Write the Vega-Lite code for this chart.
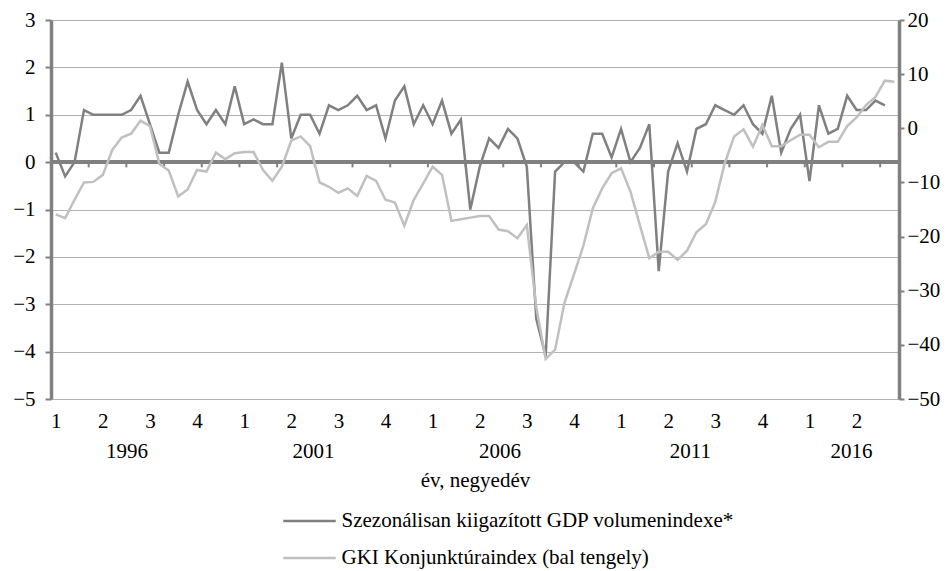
{
  "$schema": "https://vega.github.io/schema/vega-lite/v6.json",
  "width": 848,
  "height": 379,
  "autosize": {"type": "none"},
  "padding": {"left": 51, "top": 20, "right": 53, "bottom": 172},
  "background": "white",
  "config": {
    "view": {"stroke": null},
    "font": "Liberation Serif",
    "axis": {"labelFont": "Liberation Serif", "titleFont": "Liberation Serif", "labelColor": "black", "titleColor": "black", "titleFontWeight": "normal"},
    "legend": {"labelFont": "Liberation Serif", "labelColor": "black"}
  },
  "datasets": {
    "series": [
      {"i": 0, "gdp": 0.2, "gki": -15.9}, {"i": 1, "gdp": -0.3, "gki": -16.6}, {"i": 2, "gdp": 0.0, "gki": -13.2}, {"i": 3, "gdp": 1.1, "gki": -10.0}, {"i": 4, "gdp": 1.0, "gki": -9.9},
      {"i": 5, "gdp": 1.0, "gki": -8.6}, {"i": 6, "gdp": 1.0, "gki": -4.0}, {"i": 7, "gdp": 1.0, "gki": -1.7}, {"i": 8, "gdp": 1.1, "gki": -1.0}, {"i": 9, "gdp": 1.4, "gki": 1.4},
      {"i": 10, "gdp": 0.8, "gki": 0.4}, {"i": 11, "gdp": 0.2, "gki": -6.6}, {"i": 12, "gdp": 0.2, "gki": -7.8}, {"i": 13, "gdp": 1.0, "gki": -12.6}, {"i": 14, "gdp": 1.7, "gki": -11.3},
      {"i": 15, "gdp": 1.1, "gki": -7.7}, {"i": 16, "gdp": 0.8, "gki": -8.0}, {"i": 17, "gdp": 1.1, "gki": -4.5}, {"i": 18, "gdp": 0.8, "gki": -5.7}, {"i": 19, "gdp": 1.6, "gki": -4.6},
      {"i": 20, "gdp": 0.8, "gki": -4.4}, {"i": 21, "gdp": 0.9, "gki": -4.4}, {"i": 22, "gdp": 0.8, "gki": -7.7}, {"i": 23, "gdp": 0.8, "gki": -9.7}, {"i": 24, "gdp": 2.1, "gki": -7.1},
      {"i": 25, "gdp": 0.5, "gki": -2.3}, {"i": 26, "gdp": 1.0, "gki": -1.5}, {"i": 27, "gdp": 1.0, "gki": -3.3}, {"i": 28, "gdp": 0.6, "gki": -10.0}, {"i": 29, "gdp": 1.2, "gki": -10.8},
      {"i": 30, "gdp": 1.1, "gki": -11.9}, {"i": 31, "gdp": 1.2, "gki": -11.1}, {"i": 32, "gdp": 1.4, "gki": -12.5}, {"i": 33, "gdp": 1.1, "gki": -8.8}, {"i": 34, "gdp": 1.2, "gki": -9.7},
      {"i": 35, "gdp": 0.5, "gki": -13.2}, {"i": 36, "gdp": 1.3, "gki": -13.7}, {"i": 37, "gdp": 1.6, "gki": -18.0}, {"i": 38, "gdp": 0.8, "gki": -13.2}, {"i": 39, "gdp": 1.2, "gki": -10.2},
      {"i": 40, "gdp": 0.8, "gki": -7.1}, {"i": 41, "gdp": 1.3, "gki": -8.6}, {"i": 42, "gdp": 0.6, "gki": -17.1}, {"i": 43, "gdp": 0.9, "gki": -16.8}, {"i": 44, "gdp": -1.0, "gki": -16.5},
      {"i": 45, "gdp": -0.1, "gki": -16.2}, {"i": 46, "gdp": 0.5, "gki": -16.2}, {"i": 47, "gdp": 0.3, "gki": -18.7}, {"i": 48, "gdp": 0.7, "gki": -19.0}, {"i": 49, "gdp": 0.5, "gki": -20.3},
      {"i": 50, "gdp": -0.1, "gki": -17.9}, {"i": 51, "gdp": -3.3, "gki": -33.0}, {"i": 52, "gdp": -4.1, "gki": -42.6}, {"i": 53, "gdp": -0.2, "gki": -40.9}, {"i": 54, "gdp": 0.0, "gki": -32.2},
      {"i": 55, "gdp": 0.0, "gki": -27.0}, {"i": 56, "gdp": -0.2, "gki": -21.7}, {"i": 57, "gdp": 0.6, "gki": -14.8}, {"i": 58, "gdp": 0.6, "gki": -11.1}, {"i": 59, "gdp": 0.1, "gki": -8.3},
      {"i": 60, "gdp": 0.7, "gki": -7.4}, {"i": 61, "gdp": 0.0, "gki": -11.7}, {"i": 62, "gdp": 0.3, "gki": -17.9}, {"i": 63, "gdp": 0.8, "gki": -24.0}, {"i": 64, "gdp": -2.3, "gki": -22.8},
      {"i": 65, "gdp": -0.2, "gki": -22.8}, {"i": 66, "gdp": 0.4, "gki": -24.3}, {"i": 67, "gdp": -0.2, "gki": -22.6}, {"i": 68, "gdp": 0.7, "gki": -19.2}, {"i": 69, "gdp": 0.8, "gki": -17.7},
      {"i": 70, "gdp": 1.2, "gki": -13.6}, {"i": 71, "gdp": 1.1, "gki": -6.5}, {"i": 72, "gdp": 1.0, "gki": -1.5}, {"i": 73, "gdp": 1.2, "gki": -0.2}, {"i": 74, "gdp": 0.8, "gki": -3.4},
      {"i": 75, "gdp": 0.6, "gki": 0.6}, {"i": 76, "gdp": 1.4, "gki": -3.3}, {"i": 77, "gdp": 0.2, "gki": -3.3}, {"i": 78, "gdp": 0.7, "gki": -2.2}, {"i": 79, "gdp": 1.0, "gki": -1.2},
      {"i": 80, "gdp": -0.4, "gki": -1.2}, {"i": 81, "gdp": 1.2, "gki": -3.5}, {"i": 82, "gdp": 0.6, "gki": -2.5}, {"i": 83, "gdp": 0.7, "gki": -2.5}, {"i": 84, "gdp": 1.4, "gki": 0.4},
      {"i": 85, "gdp": 1.1, "gki": 2.0}, {"i": 86, "gdp": 1.1, "gki": 4.3}, {"i": 87, "gdp": 1.3, "gki": 5.8}, {"i": 88, "gdp": 1.2, "gki": 8.8}, {"i": 89, "gdp": null, "gki": 8.6}
    ],
    "yearTicks": [
      {"b": 3.5}, {"b": 7.5}, {"b": 11.5}, {"b": 15.5}, {"b": 19.5}, {"b": 23.5}, {"b": 27.5}, {"b": 31.5}, {"b": 35.5}, {"b": 39.5}, {"b": 43.5},
      {"b": 47.5}, {"b": 51.5}, {"b": 55.5}, {"b": 59.5}, {"b": 63.5}, {"b": 67.5}, {"b": 71.5}, {"b": 75.5}, {"b": 79.5}, {"b": 83.5}, {"b": 87.5}
    ]
  },
  "layer": [
    {
      "layer": [
        {
          "data": {"name": "series"},
          "mark": {"type": "rule", "color": "#808080", "strokeWidth": 3.5},
          "encoding": {"y": {"datum": 0, "type": "quantitative"}}
        },
        {
          "data": {"name": "yearTicks"},
          "mark": {"type": "rule", "color": "#808080", "strokeWidth": 2},
          "encoding": {
            "x": {"field": "b", "type": "quantitative"},
            "y": {"datum": 0, "type": "quantitative"},
            "y2": {"datum": -0.11}
          }
        },
        {
          "data": {"name": "series"},
          "mark": {"type": "line", "strokeWidth": 2.5},
          "encoding": {
            "x": {
              "field": "i", "type": "quantitative",
              "scale": {"domain": [-0.5, 89.5], "nice": false, "zero": false},
              "axis": {
                "orient": "bottom", "values": [0, 5, 10, 15, 20, 25, 30, 35, 40, 45, 50, 55, 60, 65, 70, 75, 80, 85],
                "labelExpr": "['1','2','3','4'][round(datum.value/5)%4]",
                "domain": false, "ticks": false, "grid": false, "labelFlush": false,
                "labelFontSize": 21, "labelPadding": 11, "title": null
              }
            },
            "y": {
              "field": "gdp", "type": "quantitative",
              "scale": {"domain": [-5, 3], "nice": false, "zero": false},
              "axis": {
                "orient": "left", "values": [-5, -4, -3, -2, -1, 0, 1, 2, 3], "title": null,
                "grid": true, "gridColor": "#b3b3b3", "gridWidth": 1,
                "domainColor": "#808080", "domainWidth": 3.5,
                "tickColor": "#808080", "tickWidth": 2, "tickSize": 6,
                "labelFontSize": 21, "labelPadding": 10
              }
            },
            "color": {
              "datum": "Szezonálisan kiigazított GDP volumenindexe*",
              "type": "nominal",
              "scale": {
                "domain": ["Szezonálisan kiigazított GDP volumenindexe*", "GKI Konjunktúraindex (bal tengely)"],
                "range": ["#808080", "#c0c0c0"]
              },
              "legend": {
                "title": null, "orient": "none", "legendX": 246.5, "legendY": 489,
                "direction": "vertical", "symbolType": "M-2.5,0H2.5", "symbolSize": 441,
                "symbolStrokeWidth": 2.5, "labelFontSize": 21, "rowPadding": 15, "labelOffset": 20,
                "labelLimit": 0, "padding": 0
              }
            }
          }
        }
      ]
    },
    {
      "data": {"name": "series"},
      "mark": {"type": "line", "strokeWidth": 2.5},
      "encoding": {
        "x": {
          "field": "i", "type": "quantitative",
          "scale": {"domain": [-0.5, 89.5], "nice": false, "zero": false},
          "axis": {
            "orient": "bottom", "offset": 30, "values": [7.5, 27.3, 47.1, 67.3, 84.4],
            "labelExpr": "datum.value < 15 ? '1996' : datum.value < 35 ? '2001' : datum.value < 55 ? '2006' : datum.value < 75 ? '2011' : '2016'",
            "domain": false, "ticks": false, "grid": false, "labelFlush": false,
            "labelFontSize": 21, "labelPadding": 11,
            "title": "év, negyedév", "titleFontSize": 21, "titlePadding": 8
          }
        },
        "y": {
          "field": "gki", "type": "quantitative",
          "scale": {"domain": [-50, 20], "nice": false, "zero": false},
          "axis": {
            "orient": "right", "values": [-50, -40, -30, -20, -10, 0, 10, 20], "title": null,
            "grid": false,
            "domainColor": "#808080", "domainWidth": 3.5,
            "tickColor": "#808080", "tickWidth": 2, "tickSize": 5,
            "labelFontSize": 21, "labelPadding": 3
          }
        },
        "color": {"datum": "GKI Konjunktúraindex (bal tengely)", "type": "nominal"}
      }
    }
  ],
  "resolve": {
    "scale": {"x": "independent", "y": "independent"},
    "axis": {"x": "independent", "y": "independent"}
  }
}
